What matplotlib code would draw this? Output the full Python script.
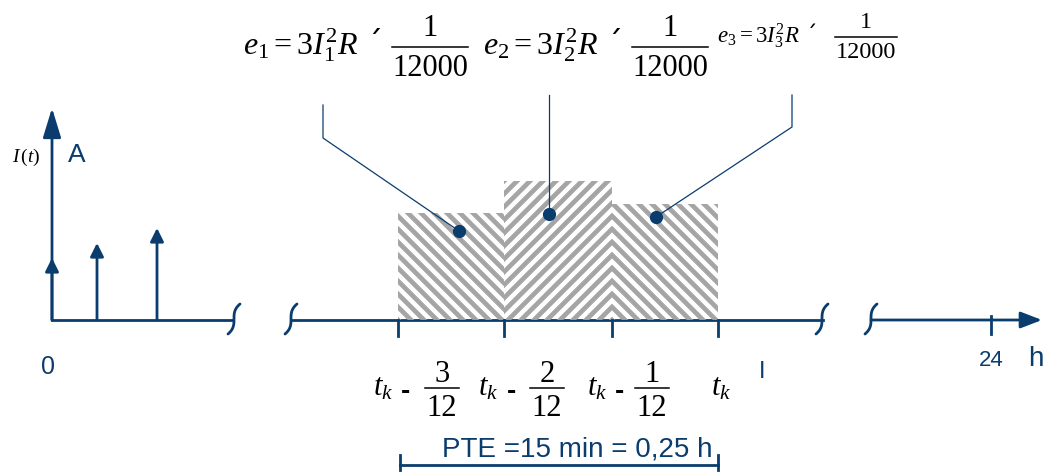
import matplotlib
matplotlib.use("Agg")
import numpy as np
import matplotlib.pyplot as plt
from matplotlib.patches import Rectangle, FancyArrowPatch

plt.rcParams['mathtext.fontset'] = 'custom'
plt.rcParams['mathtext.rm'] = 'Liberation Serif'
plt.rcParams['mathtext.it'] = 'Liberation Serif:italic'
plt.rcParams['mathtext.bf'] = 'Liberation Serif:bold'

BLUE = '#0b3c6e'
GREY = '#a0a0a0'
SERIF = 'Liberation Serif'

# time axis (drawing units) and currents of the three 5-min intervals
base = 152
interval_edges = [398, 504, 612, 718]
interval_current = [107, 139, 116]
hatch_dir = [-1, 1, -1]
dot_x = [459, 549, 656]
dot_drop = [18, 33, 13]

# sampled current impulses near t = 0
impulse_x = [52, 97, 157]
impulse_h = [62, 77, 92]

energy_labels = [r"$e_1 = 3I_1^2R$ ´", r"$e_2 = 3I_2^2R$ ´", r"$e_3 = 3I_3^2R$ ´"]
energy_denom = "12000"
tick_numer = ["3", "2", "1"]
tick_denom = "12"

fig = plt.figure(figsize=(10.44, 4.72), dpi=100)
ax = fig.add_axes([0, 0, 1, 1])
ax.set_xlim(0, 1044)
ax.set_ylim(0, 472)
ax.axis('off')

lw = 2.0


def arrow(x0, y0, x1, y1, hl, hw, w=lw):
    a = FancyArrowPatch((x0, y0), (x1, y1),
                        arrowstyle=f"-|>,head_length={hl},head_width={hw}",
                        mutation_scale=1, color=BLUE, lw=w, shrinkA=0, shrinkB=0)
    ax.add_patch(a)


def squiggle(cx, cy):
    t = np.linspace(-1, 1, 40)
    ax.plot(cx + 6 * t ** 3, cy + 15 * t, color=BLUE, lw=lw, solid_capstyle='round')


def frac(xc, yl, num, den, fs, half, dn, dd):
    ax.plot([xc - half, xc + half], [yl, yl], color='black', lw=1.1)
    ax.text(xc, yl + dn, num, fontsize=fs, family=SERIF, ha='center', va='center')
    ax.text(xc, yl - dd, den, fontsize=fs, family=SERIF, ha='center', va='center')


# axes lines
arrow(52, base, 52, 472 - 108, 18, 5.5)
ax.plot([52, 233], [base, base], color=BLUE, lw=lw)
ax.plot([291, 823], [base, base], color=BLUE, lw=lw)
arrow(871, base, 1042, base, 13, 5)
for cx in [234, 291, 822, 871]:
    squiggle(cx, base + 1)

# impulses
for x, h in zip(impulse_x, impulse_h):
    arrow(x, base, x, base + h, 8, 4)

# hatched interval bars
for i, h in enumerate(interval_current):
    x0, x1 = interval_edges[i], interval_edges[i + 1]
    rect = Rectangle((x0, base), x1 - x0, h, facecolor='white', edgecolor='none')
    ax.add_patch(rect)
    d = hatch_dir[i]
    for c in np.arange(x0 - h - 20, x1 + h + 20, 13):
        xs = np.array([c, c + h + 40])
        ys = base - 20 + d * (xs - c) if d > 0 else base + h + 20 + d * (xs - c)
        ln, = ax.plot(xs, ys, color=GREY, lw=3.4, solid_capstyle='butt', alpha=0.95)
        ln.set_clip_path(rect)

# ticks on the time axis
for x in interval_edges:
    ax.plot([x, x], [base, base - 16], color=BLUE, lw=lw)
ax.plot([991, 991], [base + 4, base - 14], color=BLUE, lw=lw)

# callout lines and dots
tops = [base + h for h in interval_current]
dot_y = [t - d for t, d in zip(tops, dot_drop)]
ax.plot([dot_x[0], 323, 323], [dot_y[0], 334, 367], color=BLUE, lw=0.9)
ax.plot([dot_x[1], 549], [dot_y[1], 377], color=BLUE, lw=0.9)
ax.plot([dot_x[2], 792, 792], [dot_y[2], 345, 377], color=BLUE, lw=0.9)
ax.plot(dot_x, dot_y, 'o', color=BLUE, ms=8.5)

# energy formulas
ax.text(243, 417, energy_labels[0], fontsize=23, va='baseline', ha='left')
frac(430, 425, "1", energy_denom, 22, 38, 18, 21)
ax.text(483, 417, energy_labels[1], fontsize=23, va='baseline', ha='left')
frac(670, 425, "1", energy_denom, 22, 38, 18, 21)
ax.text(717, 430, energy_labels[2], fontsize=16.5, va='baseline', ha='left')
frac(866, 435, "1", energy_denom, 17.5, 31, 15, 16)

# time labels under the bars
for x, xf, num in zip([373, 478, 587], [442, 547, 652], tick_numer):
    ax.text(x, 77, r"$t_k$", fontsize=22, va='baseline', ha='left')
    ax.text(x + 33, 80, "-", fontsize=20, fontweight='bold', family='Liberation Sans',
            va='center', ha='center')
    frac(xf, 84, num, tick_denom, 22, 17, 14, 21)
ax.text(711, 77, r"$t_k$", fontsize=22, va='baseline', ha='left')

# axis texts
sans = dict(family='Liberation Sans', color=BLUE)
ax.text(48, 105, "0", fontsize=18, ha='center', va='center', **sans)
ax.text(991, 111, "24", fontsize=16, ha='center', va='center', **sans)
ax.text(1036, 113, "h", fontsize=20, ha='center', va='center', **sans)
ax.text(77, 317, "A", fontsize=19, ha='center', va='center', **sans)
ax.text(762, 100, "I", fontsize=17, ha='center', va='center', **sans)
ax.text(26, 315, r"$I\,(t)$", fontsize=14, ha='center', va='center')

# PTE bracket
ax.plot([400, 718], [7, 7], color=BLUE, lw=lw)
ax.plot([400, 400], [2, 17], color=BLUE, lw=lw)
ax.plot([718, 718], [2, 17], color=BLUE, lw=lw)
ax.text(577, 22, "PTE =15 min = 0,25 h", fontsize=20, ha='center', va='center', **sans)

fig.savefig('out.png', dpi=100)
